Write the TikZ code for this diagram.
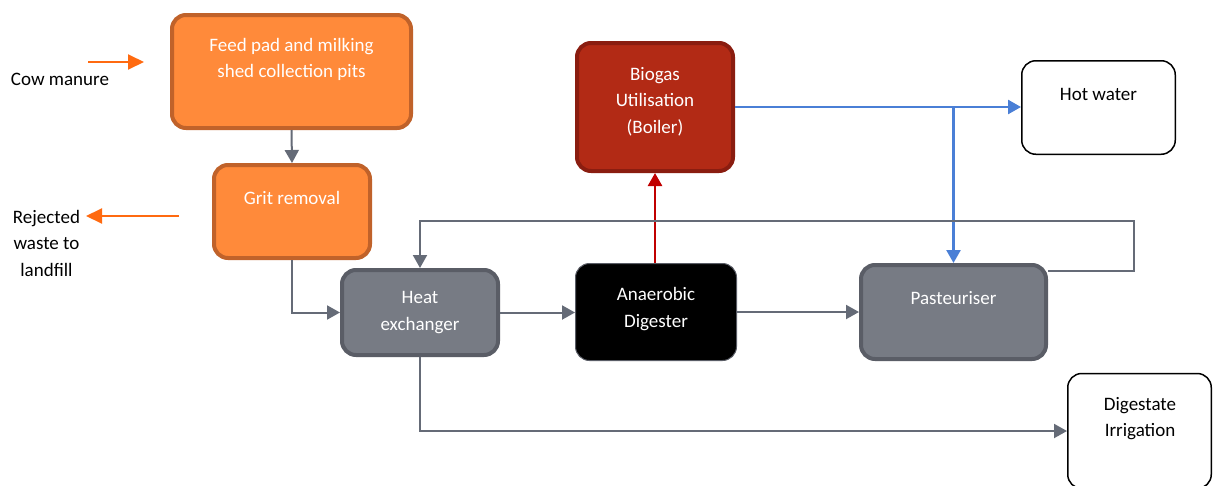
\documentclass[tikz,border=0pt]{standalone}
\usepackage{fontspec}
\setmainfont{Carlito}
\usetikzlibrary{arrows.meta,calc}

\definecolor{orfill}{HTML}{FF8A3A}
\definecolor{ordraw}{HTML}{C0622A}
\definecolor{grfill}{HTML}{777B84}
\definecolor{grdraw}{HTML}{5A5D66}
\definecolor{rdfill}{HTML}{B22A15}
\definecolor{rddraw}{HTML}{8A1D10}
\definecolor{flowgray}{HTML}{656B77}
\definecolor{flowblue}{HTML}{4A7FD6}
\definecolor{flowred}{HTML}{C00000}
\definecolor{floworange}{HTML}{FF6A10}

\begin{document}
\begin{tikzpicture}[x=1pt,y=-1pt,
  box/.style={rectangle, rounded corners=14pt, inner sep=0pt},
  orangebox/.style={box, fill=orfill, draw=ordraw, line width=4pt},
  graybox/.style={box, fill=grfill, draw=grdraw, line width=4pt},
  redbox/.style={box, fill=rdfill, draw=rddraw, line width=4pt},
  blackbox/.style={box, fill=black, draw=grdraw, line width=1pt},
  whitebox/.style={box, fill=white, draw=black, line width=1.5pt},
  lbl/.style={inner sep=0pt, align=center, font=\fontsize{19}{26.5}\selectfont},
  tip/.style={-{Triangle[length=13pt,width=14pt]}},
  flow/.style={tip, draw=flowgray, line width=2pt},
  bluef/.style={tip, draw=flowblue, line width=2.5pt},
  redf/.style={tip, draw=flowred, line width=2.5pt},
  orangef/.style={-{Triangle[length=16pt,width=15pt]}, draw=floworange, line width=2pt}]

\clip (0,0) rectangle (1213,485);
\fill[white] (0,0) rectangle (1213,485);

% process boxes
\node[orangebox, minimum width=239pt, minimum height=113pt] (feed) at (291.5,71.5) {};
\node[orangebox, minimum width=156pt, minimum height=93pt] (grit) at (292,211.5) {};
\node[graybox, minimum width=156pt, minimum height=85pt] (heat) at (420,312.5) {};
\node[blackbox, minimum width=161pt, minimum height=97pt] (ad) at (656,312) {};
\node[redbox, minimum width=156pt, minimum height=128pt] (biogas) at (655,107) {};
\node[whitebox, minimum width=153.5pt, minimum height=93.5pt] (hot) at (1098.5,107.5) {};
\node[graybox, minimum width=185pt, minimum height=94pt] (past) at (953.5,312) {};
\node[whitebox, minimum width=143.5pt, minimum height=115pt] (dig) at (1139.5,431) {};

% box texts
\node[lbl, text=white] (feed-t) at (291.5,59.5) {Feed pad and milking\\shed collection pits};
\node[lbl, text=white] (grit-t) at (292,198) {Grit removal};
\node[lbl, text=white] (heat-t) at (420,312.5) {Heat\\exchanger};
\node[lbl, text=white] (ad-t) at (656,309) {Anaerobic\\Digester};
\node[lbl, text=white] (biogas-t) at (655,101.5) {Biogas\\Utilisation\\(Boiler)};
\node[lbl] (hot-t) at (1098.5,94) {Hot water};
\node[lbl, text=white] (past-t) at (953.5,298) {Pasteuriser};
\node[lbl] (dig-t) at (1140,418.5) {Digestate\\Irrigation};

% side labels
\node[lbl] (cow) at (60,79) {Cow manure};
\node[lbl] (reject) at (46.5,243) {Rejected\\waste to\\landfill};

% inputs and outputs
\coordinate (cm-a) at (88,62);
\coordinate (cm-b) at (144,62);
\draw[orangef] (cm-a) -- (cm-b);
\coordinate (rj-a) at (179,216);
\coordinate (rj-b) at (86,216);
\draw[orangef] (rj-a) -- (rj-b);

% process flow
\draw[flow] (feed.south) -- (grit.north);
\draw[flow] (grit.south) |- (heat.west);
\draw[flow] (heat.east) -- (heat.east -| ad.west);
\draw[flow] (ad.east) -- (ad.east -| past.west);
\draw[redf] (biogas.south -| 655,0) ++(0,90) -- (biogas.south -| 655,0);

% hot water from the boiler
\draw[bluef] (biogas.east) -- (biogas.east -| hot.west);
\coordinate (tee) at (past.north |- biogas.east);
\draw[bluef] (tee) -- (past.north);

% recirculation loop back to the heat exchanger
\coordinate (loop-r) at (1134,221);
\draw[flow] ([yshift=-8pt]past.north east) -| (loop-r) -| (heat.north);

% digestate to irrigation
\draw[flow] (heat.south) |- (dig.west);
\end{tikzpicture}
\end{document}
